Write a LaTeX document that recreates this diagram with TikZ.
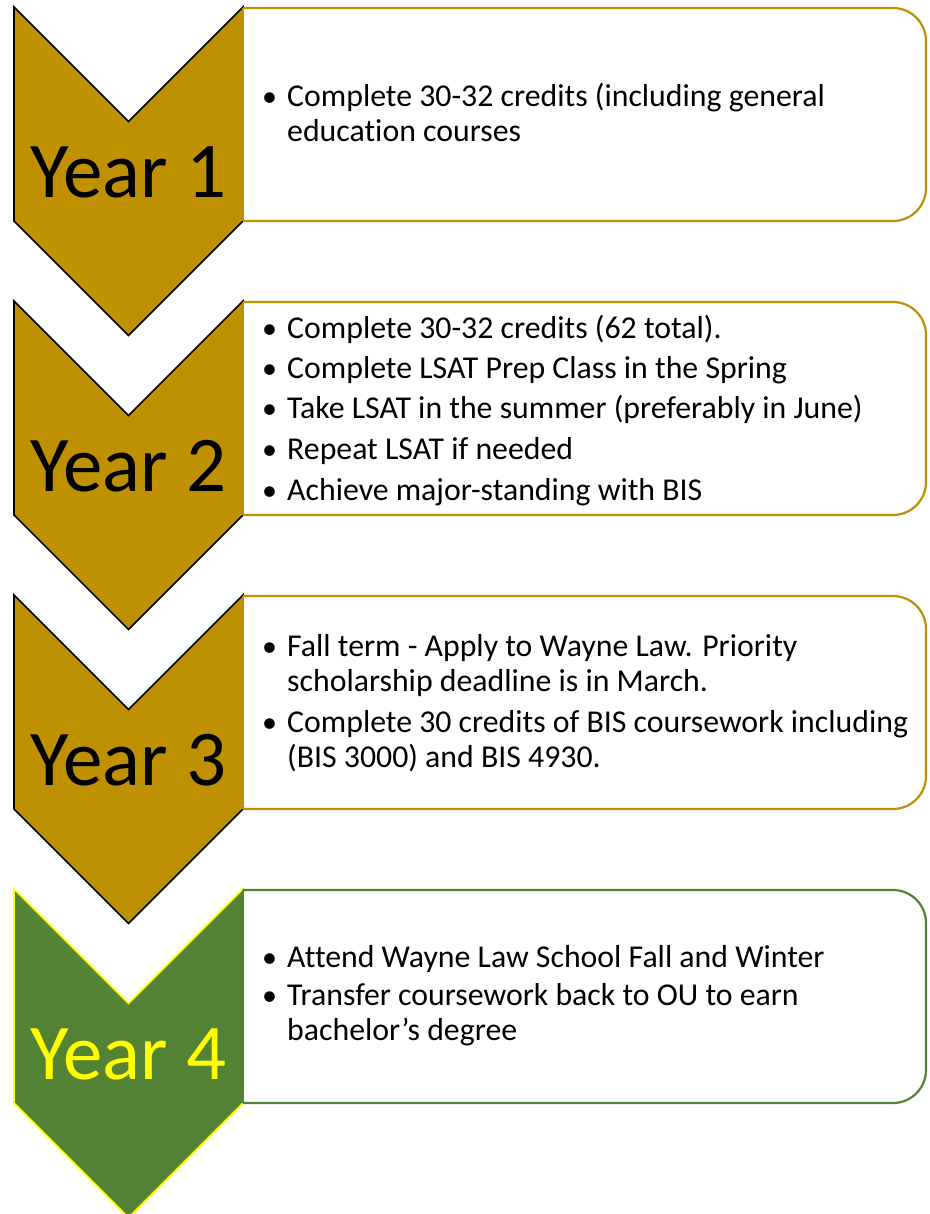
\documentclass[tikz,border=0pt]{standalone}
\usepackage{fontspec}
\setmainfont{Carlito}[Ligatures={NoCommon}]
\definecolor{gold}{HTML}{BF9000}
\definecolor{leaf}{HTML}{548235}
\definecolor{yel}{HTML}{FFFF00}
\tikzset{
  chev/.style={line width=1.6bp, line join=miter},
  yeartxt/.style={font=\fontsize{79bp}{83bp}\selectfont, anchor=base, inner sep=0pt},
  bodytxt/.style={font=\fontsize{31.8bp}{36bp}\selectfont, anchor=base west, inner sep=0pt, text=black},
  bul/.style={font=\fontsize{30bp}{34bp}\selectfont, anchor=base west, inner sep=0pt, text=black},
  boxline/.style={line width=2.2bp},
}
% #1 name, #2 top y, #3 fill, #4 border
\newcommand\chevron[4]{%
  \filldraw[chev, fill=#3, draw=#4] (14,#2) coordinate (#1a) -- (128.5,#2+114.5) -- (243,#2) -- (243,#2+214) -- (128.5,#2+328.5) -- (14,#2+214) -- cycle;}
% #1 top y, #2 border colour
\newcommand\stepbox[2]{%
  \filldraw[boxline, fill=white, draw=#2, rounded corners=33bp] (243,#1+1) -- (926,#1+1) -- (926,#1+214) -- (243,#1+214);
  \draw[boxline, draw=#2] (243,#1+1) -- (243,#1+214);}
\begin{document}
\begin{tikzpicture}[x=1bp,y=-1bp]
\useasboundingbox (0,0) rectangle (930,1214);
% Year 1
\chevron{c1}{7}{gold}{black}
\stepbox{7}{gold}
\node[yeartxt] (y1) at (128.5,197) {Year 1};
\node[bul] (b11) at (262,106) {•};
\node[bodytxt] (t11) at (287,106) {Complete 30-32 credits (including general};
\node[bodytxt] (t12) at (287,141) {education courses};
% Year 2
\chevron{c2}{301}{gold}{black}
\stepbox{301}{gold}
\node[yeartxt] (y2) at (128.5,491) {Year 2};
\node[bul] (b21) at (262,338) {•};
\node[bodytxt] (t21) at (287,338) {Complete 30-32 credits (62 total).};
\node[bul] (b22) at (262,378) {•};
\node[bodytxt] (t22) at (287,378) {Complete LSAT Prep Class in the Spring};
\node[bul] (b23) at (262,418) {•};
\node[bodytxt] (t23) at (287,418) {Take LSAT in the summer (preferably in June)};
\node[bul] (b24) at (262,459) {•};
\node[bodytxt] (t24) at (287,459) {Repeat LSAT if needed};
\node[bul] (b25) at (262,500) {•};
\node[bodytxt] (t25) at (287,500) {Achieve major-standing with BIS};
% Year 3
\chevron{c3}{595}{gold}{black}
\stepbox{595}{gold}
\node[yeartxt] (y3) at (128.5,785) {Year 3};
\node[bul] (b31) at (262,656) {•};
\node[bodytxt] (t31) at (287,656) {Fall term - Apply to Wayne Law. Priority};
\node[bodytxt] (t32) at (287,691) {scholarship deadline is in March.};
\node[bul] (b32) at (262,732) {•};
\node[bodytxt] (t33) at (287,732) {Complete 30 credits of BIS coursework including};
\node[bodytxt] (t34) at (287,767) {(BIS 3000) and BIS 4930.};
% Year 4
\chevron{c4}{889}{leaf}{yel}
\stepbox{889}{leaf}
\node[yeartxt, text=yel] (y4) at (128.5,1079) {Year 4};
\node[bul] (b41) at (262,967) {•};
\node[bodytxt] (t41) at (287,967) {Attend Wayne Law School Fall and Winter};
\node[bul] (b42) at (262,1005) {•};
\node[bodytxt] (t42) at (287,1005) {Transfer coursework back to OU to earn};
\node[bodytxt] (t43) at (287,1040) {bachelor’s degree};
\end{tikzpicture}
\end{document}
